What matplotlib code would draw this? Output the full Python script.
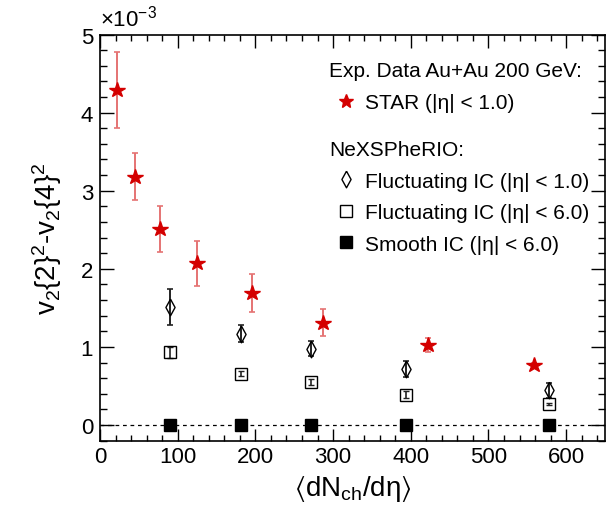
import matplotlib
matplotlib.use("Agg")
import matplotlib.pyplot as plt
from matplotlib.lines import Line2D
from matplotlib.ticker import MultipleLocator
import numpy as np

plt.rcParams['font.family'] = ['Liberation Sans', 'DejaVu Sans']
plt.rcParams['mathtext.fontset'] = 'custom'
plt.rcParams['mathtext.rm'] = 'Liberation Sans'
plt.rcParams['mathtext.it'] = 'Liberation Sans'
plt.rcParams['mathtext.default'] = 'regular'

SCALE = 1e-3

# STAR data
star_x = [22, 45, 77, 125, 195, 287, 422, 559]
star_y = [4.29, 3.18, 2.51, 2.07, 1.69, 1.31, 1.025, 0.77]
star_err = [0.49, 0.30, 0.30, 0.29, 0.245, 0.175, 0.085, 0.03]

# NeXSPheRIO
model_x = [90, 181, 272, 394.5, 578]
fl1_y = [1.51, 1.17, 0.98, 0.72, 0.445]
fl1_err = [0.23, 0.11, 0.10, 0.10, 0.10]
fl6_y = [0.93, 0.66, 0.55, 0.39, 0.265]
fl6_err = [0.065, 0.035, 0.04, 0.04, 0.012]
sm_y = [0.0, 0.0, 0.0, 0.0, 0.0]

xticks = [0, 100, 200, 300, 400, 500, 600]
yticks = [0, 1, 2, 3, 4, 5]

W, H = 608, 510
fig = plt.figure(figsize=(W / 100, H / 100), dpi=100)
ax = fig.add_axes([100 / W, 1 - 441.7 / H, 505 / W, (441.7 - 35.5) / H])

red = '#d40000'
ax.axhline(0, color='black', lw=0.9, ls=(0, (3, 3)), zorder=1)

ax.errorbar(star_x, np.array(star_y) * SCALE, yerr=np.array(star_err) * SCALE,
            fmt='none', ecolor='#e57373', elinewidth=1.4, capsize=2.3, capthick=1.2, zorder=2)
ax.plot(star_x, np.array(star_y) * SCALE, ls='none', marker='*', ms=11.5,
        color=red, mec=red, zorder=3)

diamond = [(0, 1), (0.55, 0), (0, -1), (-0.55, 0), (0, 1)]
ax.errorbar(model_x, np.array(fl1_y) * SCALE, yerr=np.array(fl1_err) * SCALE,
            fmt='none', ecolor='#222222', elinewidth=1.4, capsize=2.3, capthick=1.2, zorder=2)
ax.plot(model_x, np.array(fl1_y) * SCALE, ls='none', marker=diamond, ms=12,
        mfc='none', mec='black', mew=1.0, zorder=3)

ax.errorbar(model_x, np.array(fl6_y) * SCALE, yerr=np.array(fl6_err) * SCALE,
            fmt='none', ecolor='#222222', elinewidth=1.2, capsize=2.0, capthick=1.0, zorder=2)
ax.plot(model_x, np.array(fl6_y) * SCALE, ls='none', marker='s', ms=8.5,
        mfc='none', mec='black', mew=1.0, zorder=3)

ax.plot(model_x, np.array(sm_y) * SCALE, ls='none', marker='s', ms=9,
        mfc='black', mec='black', zorder=3)

ax.set_xlim(0, 650)
ax.set_ylim(-0.2 * SCALE, 5 * SCALE)
ax.set_xticks(xticks)
ax.set_xticklabels([str(t) for t in xticks])
ax.set_yticks(np.array(yticks) * SCALE)
ax.set_yticklabels([str(t) for t in yticks])
ax.xaxis.set_minor_locator(MultipleLocator(20))
ax.yaxis.set_minor_locator(MultipleLocator(0.2 * SCALE))
ax.tick_params(which='both', direction='in', top=True, right=True, labelsize=16, width=1.0)
ax.tick_params(axis='y', which='major', length=10, pad=5)
ax.tick_params(axis='y', which='minor', length=5)
ax.tick_params(axis='x', which='major', length=9, pad=4)
ax.tick_params(axis='x', which='minor', length=4.5)
for s in ax.spines.values():
    s.set_linewidth(1.2)

ax.set_xlabel(r'$\langle$dN$_{ch}$/dη$\rangle$', fontsize=20, labelpad=4)
ax.set_ylabel(r'v$_2${2}$^2$-v$_2${4}$^2$', fontsize=20, labelpad=12)
ax.text(0.0, 1.01, r'$\times$10$^{-3}$', transform=ax.transAxes, fontsize=16,
        ha='left', va='bottom')

h1 = [Line2D([], [], ls='none', marker='*', ms=10.5, color=red)]
leg1 = ax.legend(h1, ['STAR (|η| < 1.0)'], title='Exp. Data Au+Au 200 GeV:',
                 loc='upper left', bbox_to_anchor=((329 - 100) / 505, 1 - (62 - 35.5) / 406.2),
                 frameon=False, fontsize=15, title_fontsize=15, alignment='left',
                 borderpad=0, borderaxespad=0, handlelength=1.6, handletextpad=0.15,
                 labelspacing=0.63)
ax.add_artist(leg1)
h2 = [Line2D([], [], ls='none', marker=diamond, ms=12, mfc='none', mec='black'),
      Line2D([], [], ls='none', marker='s', ms=8.5, mfc='none', mec='black'),
      Line2D([], [], ls='none', marker='s', ms=8.5, mfc='black', mec='black')]
ax.legend(h2, ['Fluctuating IC (|η| < 1.0)', 'Fluctuating IC (|η| < 6.0)', 'Smooth IC (|η| < 6.0)'],
          title='NeXSPheRIO:', loc='upper left',
          bbox_to_anchor=((329 - 100) / 505, 1 - (141 - 35.5) / 406.2),
          frameon=False, fontsize=15, title_fontsize=15, alignment='left',
          borderpad=0, borderaxespad=0, handlelength=1.6, handletextpad=0.15,
          labelspacing=0.6)

fig.savefig('out.png', dpi=100)
